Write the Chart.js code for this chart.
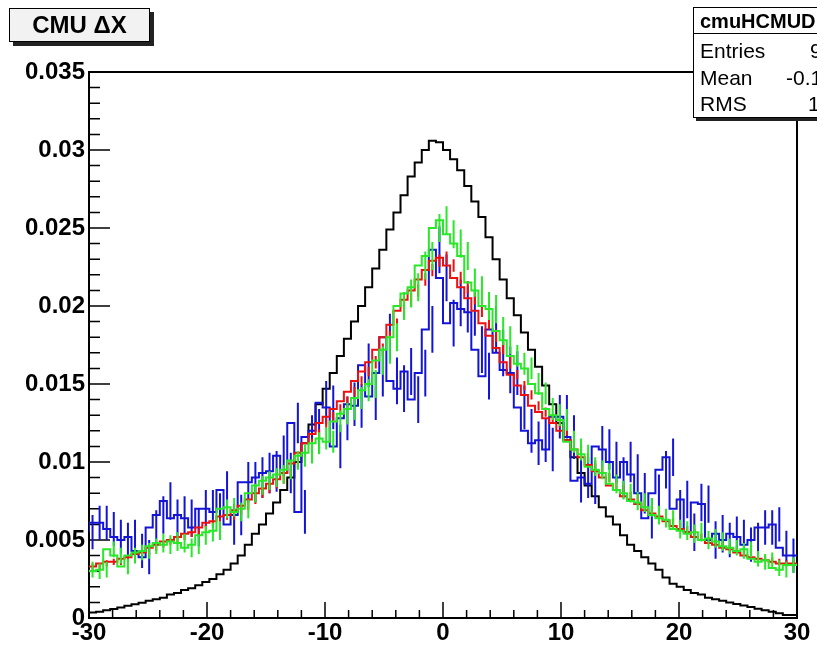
<!DOCTYPE html>
<html lang="en">
<head>
<meta charset="UTF-8">
<title>CMU ΔX</title>
<script src="https://cdn.jsdelivr.net/npm/chart.js"></script>
<style>
    body { margin: 0; background: #fff; }
    .wrap {
        position: relative; width: 817px; height: 647px; overflow: hidden;
        font-family: 'Liberation Sans', Arial, sans-serif; color: #000;
    }
    canvas { position: absolute; left: 0; top: 0; }
    .title-box {
        position: absolute; left: 9px; top: 8px; width: 139px; height: 32px;
        border: 1.5px solid #000; background: #f2f2f2;
        box-shadow: 4px 4px 0 #222;
        font-weight: bold; font-size: 24px; line-height: 32px; text-align: center;
    }
    .stats {
        position: absolute; left: 693px; top: 7px; width: 200px; height: 109px;
        border: 1.5px solid #000; background: #fff;
        box-shadow: 3px 3px 0 #222;
    }
    .stats .head {
        position: absolute; left: 0; top: 0; right: 0; height: 25px;
        border-bottom: 1px solid #000;
        font-weight: bold; font-size: 20px; line-height: 26px; padding-left: 6px;
    }
    .stats span { position: absolute; font-size: 21px; line-height: 22px; white-space: nowrap; }
</style>
</head>
<body>
<div class="wrap">
    <canvas id="dxChart" width="817" height="647"></canvas>
    <div class="title-box">CMU ΔX</div>
    <div class="stats">
        <div class="head">cmuHCMUD</div>
        <span style="left:6px; top:32px">Entries</span><span style="left:116px; top:32px">9</span>
        <span style="left:6px; top:59px">Mean</span><span style="left:92px; top:59px">-0.1</span>
        <span style="left:6px; top:85px">RMS</span><span style="left:114px; top:85px">1</span>
    </div>
</div>

<script>
    // histogram range, 100 bins of 0.6
    const xLow = -30, xHigh = 30;
    const xTicks = [-30, -20, -10, 0, 10, 20, 30];
    const yTicks = [0, 0.005, 0.01, 0.015, 0.02, 0.025, 0.03, 0.035];

    const blackVals = [
        0.0003, 0.00035, 0.0004, 0.0005, 0.00058, 0.00068, 0.00078, 0.00088, 0.00098, 0.0011,
        0.0012, 0.0013, 0.0015, 0.0016, 0.0018, 0.0019, 0.0021, 0.0023, 0.0025, 0.0028,
        0.0031, 0.0035, 0.0040, 0.0047, 0.0054, 0.0060, 0.0067, 0.0074, 0.0082, 0.0090,
        0.0100, 0.0112, 0.0124, 0.0137, 0.0147, 0.0157, 0.0168, 0.0179, 0.0190, 0.0200,
        0.0212, 0.0224, 0.0236, 0.0249, 0.0260, 0.0271, 0.0283, 0.0292, 0.0300, 0.0306,
        0.0305, 0.0300, 0.0294, 0.0287, 0.0277, 0.0267, 0.0257, 0.0244, 0.0230, 0.0217,
        0.0205, 0.0194, 0.0183, 0.0172, 0.0161, 0.0149, 0.0137, 0.0125, 0.0114, 0.0103,
        0.0093, 0.0085, 0.0078, 0.0071, 0.0065, 0.0060, 0.0053, 0.0047, 0.0043, 0.0039,
        0.0035, 0.0031, 0.0026, 0.0022, 0.0020, 0.0018, 0.0016, 0.0015, 0.0013, 0.0012,
        0.0011, 0.0010, 0.0009, 0.0008, 0.0007, 0.0006, 0.0005, 0.0004, 0.0003, 0.0002
    ];

    const blueVals = [
        0.0055, 0.0061, 0.0061, 0.0057, 0.0052, 0.0050, 0.0052, 0.0043, 0.0039, 0.0058,
        0.0066, 0.0075, 0.0064, 0.0066, 0.0064, 0.0058, 0.0070, 0.0070, 0.0068, 0.0082,
        0.0060, 0.0066, 0.0087, 0.0087, 0.0090, 0.0093, 0.0094, 0.0104, 0.0093, 0.0125,
        0.0068, 0.0116, 0.0120, 0.0138, 0.0135, 0.0110, 0.0128, 0.0137, 0.0136, 0.0162,
        0.0142, 0.0157, 0.0180, 0.0152, 0.0147, 0.0158, 0.0140, 0.0157, 0.0185, 0.0236,
        0.0218, 0.0189, 0.0202, 0.0198, 0.0196, 0.0172, 0.0155, 0.0185, 0.0170, 0.0159,
        0.0157, 0.0135, 0.0120, 0.0112, 0.0114, 0.0108, 0.0129, 0.0129, 0.0116, 0.0088,
        0.0090, 0.0086, 0.0110, 0.0108, 0.0100, 0.0090, 0.0100, 0.0092, 0.0080, 0.0064,
        0.0080, 0.0095, 0.0103, 0.0070, 0.0076, 0.0055, 0.0074, 0.0073, 0.0050, 0.0054,
        0.0050, 0.0054, 0.0052, 0.0047, 0.0050, 0.0058, 0.0058, 0.0060, 0.0045, 0.0040
    ];

    const redVals = [
        0.0033, 0.0033, 0.0035, 0.0036, 0.0036, 0.0038, 0.0039, 0.0041, 0.0042, 0.0045,
        0.0047, 0.0049, 0.0050, 0.0052, 0.0054, 0.0055, 0.0058, 0.0061, 0.0062, 0.0065,
        0.0066, 0.0069, 0.0072, 0.0076, 0.0080, 0.0083, 0.0086, 0.0089, 0.0093, 0.0099,
        0.0106, 0.0112, 0.0118, 0.0125, 0.0129, 0.0134, 0.0139, 0.0145, 0.0152, 0.0158,
        0.0164, 0.0172, 0.0180, 0.0188, 0.0197, 0.0204, 0.0210, 0.0217, 0.0223, 0.0229,
        0.0231, 0.0226, 0.0218, 0.0212, 0.0205, 0.0197, 0.0189, 0.0181, 0.0173, 0.0164,
        0.0156, 0.0149, 0.0143, 0.0136, 0.0132, 0.0128, 0.0125, 0.0120, 0.0114, 0.0108,
        0.0103, 0.0098, 0.0094, 0.0090, 0.0085, 0.0082, 0.0078, 0.0076, 0.0073, 0.0069,
        0.0067, 0.0065, 0.0062, 0.0059, 0.0057, 0.0055, 0.0052, 0.0050, 0.0048, 0.0047,
        0.0045, 0.0044, 0.0042, 0.0040, 0.0039, 0.0038, 0.0037, 0.0036, 0.0035, 0.0035
    ];

    const greenVals = [
        0.0031, 0.0030, 0.0031, 0.0044, 0.0040, 0.0033, 0.0040, 0.0042, 0.0043, 0.0046,
        0.0048, 0.0047, 0.0049, 0.0048, 0.0045, 0.0047, 0.0053, 0.0055, 0.0056, 0.0070,
        0.0071, 0.0068, 0.0070, 0.0080, 0.0085, 0.0088, 0.0090, 0.0092, 0.0095, 0.0101,
        0.0104, 0.0106, 0.0112, 0.0115, 0.0113, 0.0126, 0.0131, 0.0134, 0.0141, 0.0146,
        0.0150, 0.0165, 0.0172, 0.0180, 0.0200, 0.0208, 0.0212, 0.0226, 0.0232, 0.0250,
        0.0255, 0.0246, 0.0240, 0.0232, 0.0215, 0.0210, 0.0200, 0.0198, 0.0184, 0.0178,
        0.0168, 0.0163, 0.0160, 0.0150, 0.0144, 0.0134, 0.0130, 0.0127, 0.0113, 0.0108,
        0.0105, 0.0097, 0.0095, 0.0093, 0.0086, 0.0082, 0.0080, 0.0075, 0.0074, 0.0071,
        0.0066, 0.0064, 0.0063, 0.0057, 0.0056, 0.0054, 0.0055, 0.0050, 0.0051, 0.0049,
        0.0046, 0.0045, 0.0043, 0.0044, 0.0038, 0.0036, 0.0037, 0.0032, 0.0031, 0.0034
    ];

    // error half-widths, one value per group of 10 bins
    const blueErrGroups = [0.0011, 0.0012, 0.0013, 0.0014, 0.0015, 0.0015, 0.0014, 0.0013, 0.0012, 0.0011];
    const greenErrGroups = [0.0005, 0.0006, 0.0006, 0.0007, 0.0009, 0.0009, 0.0007, 0.0006, 0.0006, 0.0005];
    const redErrGroups = [0.0002, 0.0002, 0.0003, 0.0003, 0.0004, 0.0004, 0.0003, 0.0003, 0.0002, 0.0002];

    function histPoints(vals) {
        const w = (xHigh - xLow) / vals.length;
        const pts = vals.map((v, i) => ({ x: xLow + i * w, y: v }));
        pts.push({ x: xHigh, y: vals[vals.length - 1] });
        return pts;
    }

    function histDataset(vals, color, order, errGroups) {
        return {
            data: histPoints(vals),
            values: vals,
            errGroups: errGroups,
            borderColor: color,
            borderWidth: 2,
            stepped: 'after',
            pointRadius: 0,
            fill: false,
            order: order
        };
    }

    // frame and ROOT-style inward ticks
    const framePlugin = {
        id: 'frame',
        beforeDatasetsDraw(chart) {
            const { ctx, chartArea: a, scales } = chart;
            ctx.save();
            ctx.strokeStyle = '#000';
            ctx.lineWidth = 2;
            ctx.strokeRect(a.left, a.top, a.right - a.left, a.bottom - a.top);
            ctx.beginPath();
            for (let k = 0; k <= 35; k++) {
                const py = scales.y.getPixelForValue(k * 0.001);
                const len = k % 5 === 0 ? 21 : 11;
                ctx.moveTo(a.left, py);
                ctx.lineTo(a.left + len, py);
            }
            for (let k = 0; k <= 30; k++) {
                const px = scales.x.getPixelForValue(xLow + k * 2);
                const len = k % 5 === 0 ? 16 : 8;
                ctx.moveTo(px, a.bottom);
                ctx.lineTo(px, a.bottom - len);
            }
            ctx.lineWidth = 1.5;
            ctx.stroke();
            ctx.restore();
        }
    };

    const errorBarPlugin = {
        id: 'errorBars',
        afterDatasetDraw(chart, args) {
            const ds = chart.data.datasets[args.index];
            if (!ds.errGroups) return;
            const { ctx, chartArea: a, scales } = chart;
            const w = (xHigh - xLow) / ds.values.length;
            ctx.save();
            ctx.beginPath();
            ctx.rect(a.left, a.top, a.right - a.left, a.bottom - a.top);
            ctx.clip();
            ctx.beginPath();
            ds.values.forEach((v, i) => {
                const e = ds.errGroups[Math.floor(i / 10)];
                const px = scales.x.getPixelForValue(xLow + (i + 0.5) * w);
                ctx.moveTo(px, scales.y.getPixelForValue(v - e));
                ctx.lineTo(px, scales.y.getPixelForValue(v + e));
            });
            ctx.strokeStyle = ds.borderColor;
            ctx.lineWidth = 2;
            ctx.stroke();
            ctx.restore();
        }
    };

    const tickFont = { family: "'Liberation Sans', Arial, sans-serif", size: 24, weight: 'bold' };

    new Chart(document.getElementById('dxChart'), {
        type: 'line',
        data: {
            datasets: [
                histDataset(blackVals, '#000000', 4, null),
                histDataset(blueVals, '#1414d6', 3, blueErrGroups),
                histDataset(redVals, '#ee1010', 2, redErrGroups),
                histDataset(greenVals, '#28e828', 1, greenErrGroups)
            ]
        },
        options: {
            responsive: false,
            animation: false,
            devicePixelRatio: 1,
            layout: { padding: { top: 72, right: 20, left: 0, bottom: 0 } },
            plugins: { legend: { display: false }, tooltip: { enabled: false } },
            scales: {
                x: {
                    type: 'linear', min: xLow, max: xHigh,
                    grid: { display: false, drawTicks: false },
                    border: { display: false },
                    afterBuildTicks: s => { s.ticks = xTicks.map(v => ({ value: v })); },
                    afterFit: s => { s.height = 29; },
                    ticks: { color: '#000', font: tickFont, padding: 1, maxRotation: 0, autoSkip: false,
                        callback: v => String(v) }
                },
                y: {
                    type: 'linear', min: 0, max: 0.035,
                    grid: { display: false, drawTicks: false },
                    border: { display: false },
                    afterBuildTicks: s => { s.ticks = yTicks.map(v => ({ value: v })); },
                    afterFit: s => { s.width = 89; },
                    ticks: { color: '#000', font: tickFont, padding: 4, autoSkip: false,
                        callback: v => String(+v.toFixed(3)) }
                }
            }
        },
        plugins: [framePlugin, errorBarPlugin]
    });
</script>
</body>
</html>
